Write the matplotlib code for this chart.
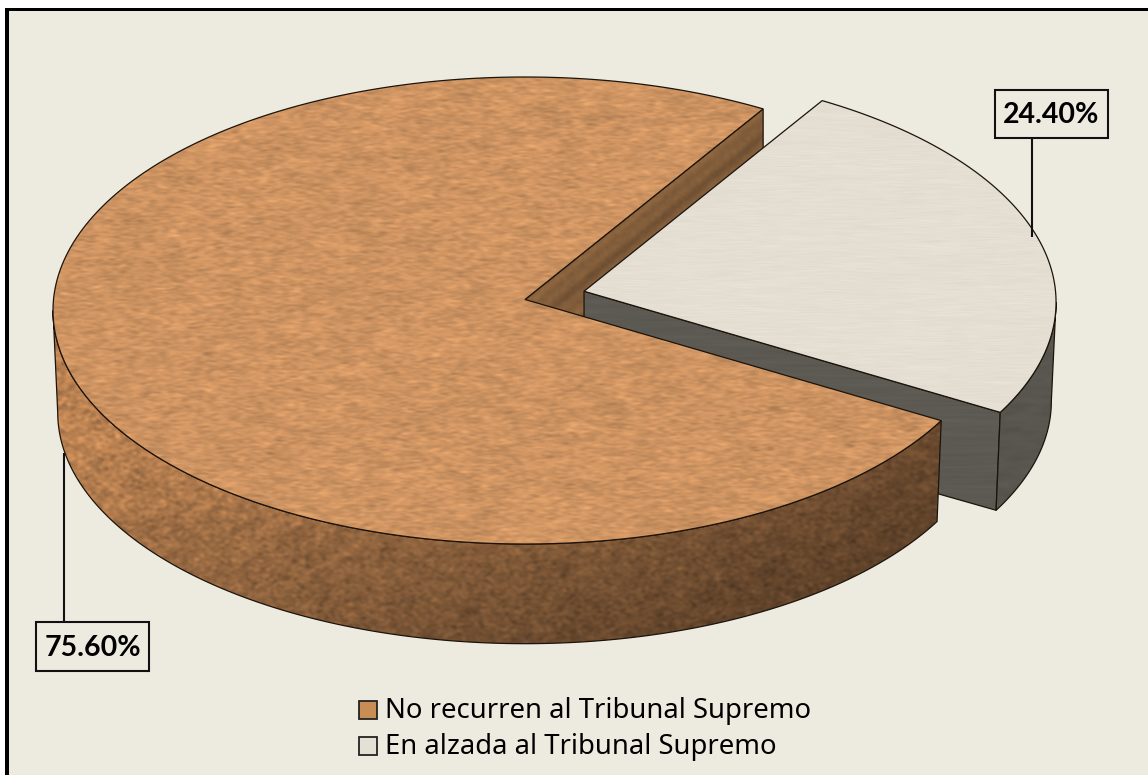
import numpy as np
import matplotlib
matplotlib.use('Agg')
import matplotlib.pyplot as plt
from matplotlib.patches import Polygon, Rectangle

# data
categories = ['No recurren al Tribunal Supremo', 'En alzada al Tribunal Supremo']
shares = [75.60, 24.40]

BG = '#edebe0'
EDGE = '#1c140c'
W, H = 1148, 775

# pie geometry in pixels (the slanted 3D view)
cx, cy = 525, 310.5
rx, ry = 472, 233.5
depth = 102
shrink = 0.99  # lower rim a bit narrower, perspective
start = 59.7   # where the big slice starts, degrees, counter-clockwise
explode = 0.13

rng = np.random.default_rng(5)


def smooth(a, nx, ny):
    # box blur using rolls, wraps round but nobody sees that
    for _ in range(2):
        a = sum(np.roll(a, i, axis=1) for i in range(nx)) / nx
        a = sum(np.roll(a, j, axis=0) for j in range(ny)) / ny
    return a


def noise(h, w, nx, ny):
    a = smooth(rng.normal(size=(h, w)), nx, ny)
    return a / a.std()


def rim(ox, oy, t0, t1, n=200, scale=1.0, dy=0.0):
    t = np.radians(np.linspace(t0, t1, n))
    return np.column_stack([ox + scale * rx * np.cos(t), oy + dy + scale * ry * np.sin(-t)])


def textured(ax, poly, rgb, nx, ny, amount, shade=None):
    # noisy picture clipped by the polygon outline
    a = noise(H, W, nx, ny) * 0.8 + noise(H, W, nx * 3, ny * 3) * 0.4
    img = np.ones((H, W, 3)) * np.array(rgb, dtype=float)
    img = img * (1 + amount * a[..., None])
    if shade is not None:
        img = img * shade[..., None]
    img = np.clip(img / 255, 0, 1)
    patch = Polygon(poly, closed=True, fc='none', ec=EDGE, lw=0.9, zorder=ax.zcount + 1)
    im = ax.imshow(img, extent=(0, W, H, 0), zorder=ax.zcount, interpolation='bilinear', aspect='auto')
    ax.add_patch(patch)
    im.set_clip_path(patch)
    ax.zcount += 2


fig = plt.figure(figsize=(W / 100, H / 100), dpi=100, facecolor='white')
ax = fig.add_axes([0, 0, 1, 1])
ax.zcount = 3

# panel: black only on the top and left, the rest is cut off in the original
ax.add_patch(Rectangle((5, 8), W, H, fc='black', ec='none', zorder=1))
ax.add_patch(Rectangle((9, 10.5), W, H, fc=BG, ec='none', zorder=2))

# slice angles come from the shares
sweep_big = shares[0] * 3.6
sweep_small = shares[1] * 3.6
end_big = start + sweep_big
mid_small = start - sweep_small / 2
sx = cx + explode * rx * np.cos(np.radians(mid_small))
sy = cy - explode * ry * np.sin(np.radians(mid_small))

apex = np.array([cx, cy - 11])
sapex = np.array([sx, sy - 11])

xx = np.arange(W) / W
yy = np.arange(H)[:, None]

# inner wall of the big slice, seen through the gap
p_start = rim(cx, cy, start, start, 1)[0]
band = np.array([apex, p_start, p_start + [0, depth], apex + [0, depth]])
# streaks run along the cut
u = (np.arange(W)[None, :] * 195 + yy * 240) / 307
streak = np.sin(u / 2.1) * 0.05 + np.sin(u / 5.3) * 0.06
textured(ax, band, (128, 92, 58), 3, 3, 0.02, shade=1 + streak)

# small slice walls
s0 = rim(sx, sy, start - sweep_small, start - sweep_small, 1)[0]
outer_top = rim(sx, sy, start - sweep_small, 0)
outer_bot = rim(sx, sy, start - sweep_small, 0, scale=shrink, dy=depth - 3)
front = np.array([sapex, s0, outer_bot[0], sapex + [0, depth]])
textured(ax, front, (92, 90, 82), 40, 2, 0.02)
outer = np.vstack([outer_top, outer_bot[::-1]])
textured(ax, outer, (88, 86, 78), 10, 3, 0.02)

# small slice top
stop = np.vstack([[sapex], rim(sx, sy, start - sweep_small, start)])
textured(ax, stop, (229, 223, 211), 14, 1, 0.008)

# big slice outer wall, light on the left, dark to the right
wall_top = rim(cx, cy, 180, end_big)
wall_bot = rim(cx, cy, 180, end_big, scale=shrink, dy=depth)
wall = np.vstack([wall_top, wall_bot[::-1]])
shade = (1.04 - 0.6 * xx ** 1.2)[None, :] * np.ones((H, W))
shade = shade * (1.05 - 0.28 * np.clip((yy - 440) / 200, 0, 1))
textured(ax, wall, (178, 124, 78), 4, 3, 0.07, shade=shade)

# big slice top
btop = np.vstack([[apex], rim(cx, cy, start, end_big, n=500)])
textured(ax, btop, (206, 148, 98), 6, 2, 0.045)

# callouts
values = [f'{v:.2f}%' for v in shares]
boxes = [(36, 622, 113, 49, 64, 453), (995, 90, 113, 48, 1032, 237)]
for txt, (bx, by, bw, bh, lx, ly) in zip(values, boxes):
    ax.plot([lx, lx], [by if ly > by else by + bh, ly], color='#111111', lw=1.5, zorder=ax.zcount,
            solid_capstyle='butt')
    ax.add_patch(Rectangle((bx, by), bw, bh, fc=BG, ec='#111111', lw=1.5, zorder=ax.zcount + 1))
    ax.text(bx + bw / 2, by + bh / 2 + 1, txt, ha='center', va='center', fontsize=20.5,
            fontweight='bold', family='Lato', color='black', zorder=ax.zcount + 2)

# legend
leg_fill = [(200, 140, 85), (229, 224, 213)]
for i, (name, col) in enumerate(zip(categories, leg_fill)):
    y = 709 + i * 36
    ax.add_patch(Rectangle((358.5, y - 8.5), 18, 18, fc=np.array(col) / 255, ec='#222222', lw=1.3,
                           zorder=ax.zcount))
    ax.text(385, y + 9, name, ha='left', va='baseline', fontsize=19.8, family='Noto Sans',
            color='black', zorder=ax.zcount)

ax.set_xlim(0, W)
ax.set_ylim(H, 0)
ax.axis('off')
fig.savefig('out.png', dpi=100, facecolor='white')
plt.close()
